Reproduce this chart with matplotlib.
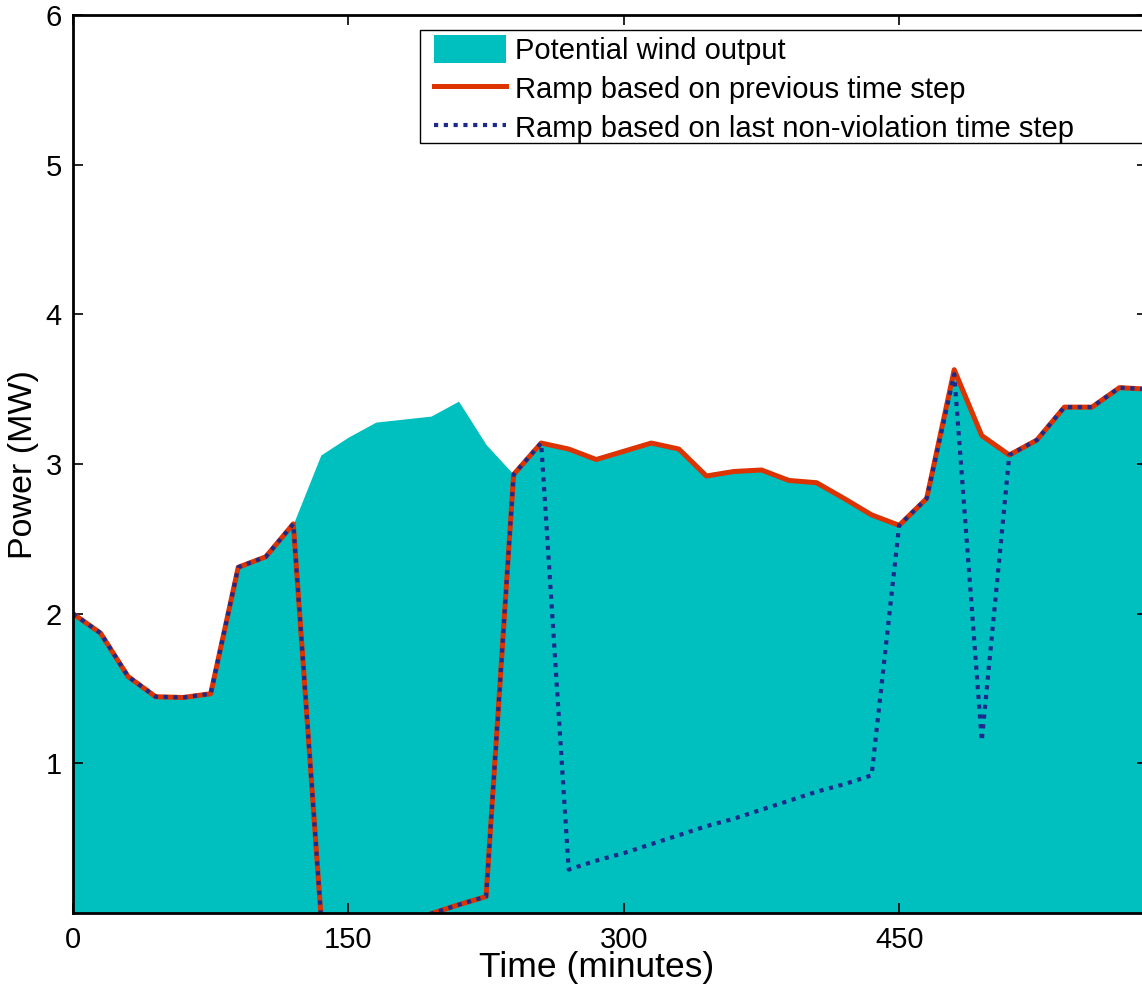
import matplotlib
matplotlib.use("Agg")
import matplotlib.pyplot as plt
from matplotlib.patches import Rectangle
import numpy as np

plt.rcParams['font.family'] = ['Liberation Sans', 'DejaVu Sans']

time_min = [0, 15, 30, 45, 60, 75, 90, 105, 120, 135, 150, 165, 180, 195, 210,
            225, 240, 255, 270, 285, 300, 315, 330, 345, 360, 375, 390, 405,
            420, 435, 450, 465, 480, 495, 510, 525, 540, 555, 570, 585]

potential = [2.00, 1.87, 1.58, 1.445, 1.44, 1.465, 2.31, 2.38, 2.60, 3.06, 3.18,
             3.28, 3.30, 3.32, 3.42, 3.13, 2.93, 3.14, 3.10, 3.03, 3.085, 3.14,
             3.10, 2.92, 2.95, 2.96, 2.89, 2.875, 2.77, 2.66, 2.59, 2.77, 3.63,
             3.19, 3.06, 3.16, 3.38, 3.38, 3.51, 3.50]

ramp_prev = [2.00, 1.87, 1.58, 1.445, 1.44, 1.465, 2.31, 2.38, 2.60, -0.01, -0.5,
             -0.5, -0.5, -0.005, 0.055, 0.11, 2.93, 3.14, 3.10, 3.03, 3.085, 3.14,
             3.10, 2.92, 2.95, 2.96, 2.89, 2.875, 2.77, 2.66, 2.59, 2.77, 3.63,
             3.19, 3.06, 3.16, 3.38, 3.38, 3.51, 3.50]

ramp_last = [2.00, 1.87, 1.58, 1.445, 1.44, 1.465, 2.31, 2.38, 2.60, -0.01, -0.5,
             -0.5, -0.5, -0.005, 0.055, 0.11, 2.93, 3.14, 0.29, 0.35, 0.40, 0.46,
             0.52, 0.58, 0.63, 0.69, 0.75, 0.81, 0.86, 0.92, 2.59, 2.77, 3.60,
             1.15, 3.06, 3.16, 3.38, 3.38, 3.51, 3.50]

x_ticks = [0, 150, 300, 450]
y_ticks = [1, 2, 3, 4, 5, 6]
legend_labels = ['Potential wind output', 'Ramp based on previous time step',
                 'Ramp based on last non-violation time step']

W, H = 1142, 989
fig = plt.figure(figsize=(W / 100, H / 100), dpi=100)
ax_left, ax_right, ax_top, ax_bottom = 73, 1147, 15, 913
ax = fig.add_axes([ax_left / W, 1 - ax_bottom / H, (ax_right - ax_left) / W,
                   (ax_bottom - ax_top) / H])

cyan = '#00BFBF'
red = '#DC3300'
blue = '#1C2A8C'

h_fill = ax.fill_between(time_min, potential, 0, color=cyan, linewidth=0, zorder=1)
h_red, = ax.plot(time_min, ramp_prev, color=red, linewidth=3.6, zorder=2,
                 solid_joinstyle='round')
h_blue, = ax.plot(time_min, ramp_last, color=blue, linewidth=3.0, zorder=3,
                  linestyle=(0, (1, 1.35)), dash_capstyle='butt')

ax.set_xlim(0, 585)
ax.set_ylim(0, 6)
ax.set_xticks(x_ticks)
ax.set_yticks(y_ticks)
ax.tick_params(direction='in', length=7, width=1.2, labelsize=21,
               top=True, right=True, color='black')
ax.tick_params(axis='x', pad=9)
ax.tick_params(axis='y', pad=8)
for s in ax.spines.values():
    s.set_linewidth(2)
    s.set_zorder(5)

ax.set_xlabel('Time (minutes)', fontsize=25.5)
ax.set_ylabel('Power (MW)', fontsize=24.5)
ax.xaxis.set_label_coords((597 - ax_left) / (ax_right - ax_left),
                          -(968 - ax_bottom) / (ax_bottom - ax_top))
ax.yaxis.set_label_coords(-(ax_left - 24) / (ax_right - ax_left),
                          (ax_bottom - 465) / (ax_bottom - ax_top))
ax.xaxis.label.set_va('center')
ax.yaxis.label.set_va('center')

# legend frame (extends past the right edge as in the reference)
frame = Rectangle((420 / W, 1 - 143 / H), (1160 - 420) / W, (143 - 30) / H,
                  transform=fig.transFigure, facecolor='white', edgecolor='black',
                  linewidth=1.0, zorder=6, clip_on=False)
ax.add_artist(frame)

leg = ax.legend([h_fill, h_red, h_blue], legend_labels, loc='upper left',
                bbox_to_anchor=(430 / W, 1 - 31 / H), bbox_transform=fig.transFigure,
                frameon=False, fontsize=21, handlelength=2.45, handleheight=1.1,
                handletextpad=0.32, labelspacing=0.3, borderpad=0.15,
                borderaxespad=0)
leg.set_zorder(7)

fig.savefig('out.png', dpi=100)
